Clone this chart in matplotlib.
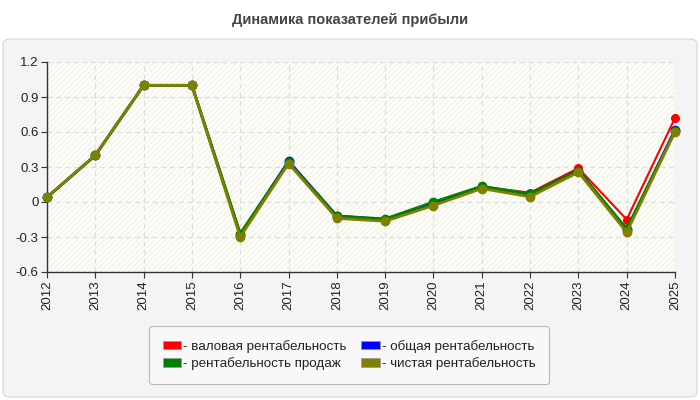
import matplotlib
matplotlib.use("Agg")
import matplotlib.pyplot as plt
from matplotlib.patches import FancyBboxPatch, Rectangle, Patch

plt.rcParams['font.family'] = ['Liberation Sans', 'DejaVu Sans']

years = [2012, 2013, 2014, 2015, 2016, 2017, 2018, 2019, 2020, 2021, 2022, 2023, 2024, 2025]
gross = [0.04, 0.40, 1.00, 1.00, -0.28, 0.34, -0.12, -0.15, -0.01, 0.13, 0.08, 0.29, -0.15, 0.72]
total = [0.04, 0.40, 1.00, 1.00, -0.28, 0.35, -0.12, -0.15, -0.01, 0.13, 0.065, 0.27, -0.24, 0.62]
sales = [0.04, 0.40, 1.00, 1.00, -0.27, 0.34, -0.12, -0.145, 0.00, 0.135, 0.07, 0.27, -0.23, 0.61]
net = [0.04, 0.40, 1.00, 1.00, -0.30, 0.33, -0.14, -0.165, -0.03, 0.115, 0.045, 0.255, -0.26, 0.60]

labels = ['- валовая рентабельность', '- рентабельность продаж',
          '- общая рентабельность', '- чистая рентабельность']
colors = ['#ff0000', '#008000', '#0000ff', '#808000']
yticks = [-0.6, -0.3, 0, 0.3, 0.6, 0.9, 1.2]
ytick_labels = ['-0.6', '-0.3', '0', '0.3', '0.6', '0.9', '1.2']

fig = plt.figure(figsize=(7, 4), dpi=100)
fig.patch.set_facecolor('white')

panel = FancyBboxPatch((3/700, 3/400), 694/700, 358/400,
                       boxstyle="round,pad=0,rounding_size=0.012",
                       transform=fig.transFigure, facecolor='#f4f4f4',
                       edgecolor='#dcdcdc', linewidth=1, zorder=-5)
fig.patches.append(panel)

fig.text(0.5, 1 - 20/400, 'Динамика показателей прибыли', ha='center', va='center',
         fontsize=10.5, fontweight='bold', color='#444444')

ax = fig.add_axes([47/700, 1 - 272/400, 628/700, 210/400], zorder=1)
ax.set_facecolor('#fefef8')
ax.add_patch(Rectangle((0, 0), 1, 1, transform=ax.transAxes, facecolor='none',
                       edgecolor='#f3f3ec', hatch='//////', linewidth=0, zorder=0))

series = [gross, sales, total, net]
order = [0, 2, 1, 3]
for k, i in enumerate(order):
    ax.plot(years, series[i], color=colors[i], linewidth=1.5 if i == 0 else 2,
            marker='o', markersize=5.5 if i == 0 else 6, zorder=3 + k, clip_on=False)

ax.set_xlim(2012, 2025)
ax.set_ylim(-0.6, 1.2)
ax.set_xticks(years)
ax.set_xticklabels([str(y) for y in years], rotation=90, fontsize=9.5, color='#222222')
ax.set_yticks(yticks)
ax.set_yticklabels(ytick_labels, fontsize=9.5, color='#222222')
ax.grid(True, color='#dddddd', linestyle=(0, (4, 3)), linewidth=0.9)
ax.set_axisbelow(True)
for s in ['top', 'right']:
    ax.spines[s].set_visible(False)
for s in ['left', 'bottom']:
    ax.spines[s].set_color('#333333')
    ax.spines[s].set_linewidth(1)
ax.tick_params(length=4, color='#333333', pad=2)

leg_handles = [Patch(facecolor=c, edgecolor='#999999', linewidth=0.5) for c in colors]
leg = fig.legend(leg_handles, labels, ncol=2, loc='center', bbox_to_anchor=(349/700, 1 - 355/400),
                 fontsize=9.6, frameon=True, fancybox=True, edgecolor='#aaaaaa',
                 facecolor='#fafafa', handlelength=1.4, handleheight=0.65,
                 handletextpad=0.15, columnspacing=1.1, borderpad=1.0, labelspacing=0.35)
leg.get_frame().set_linewidth(0.8)
for t in leg.get_texts():
    t.set_color('#222222')

fig.savefig('out.png', dpi=100)
